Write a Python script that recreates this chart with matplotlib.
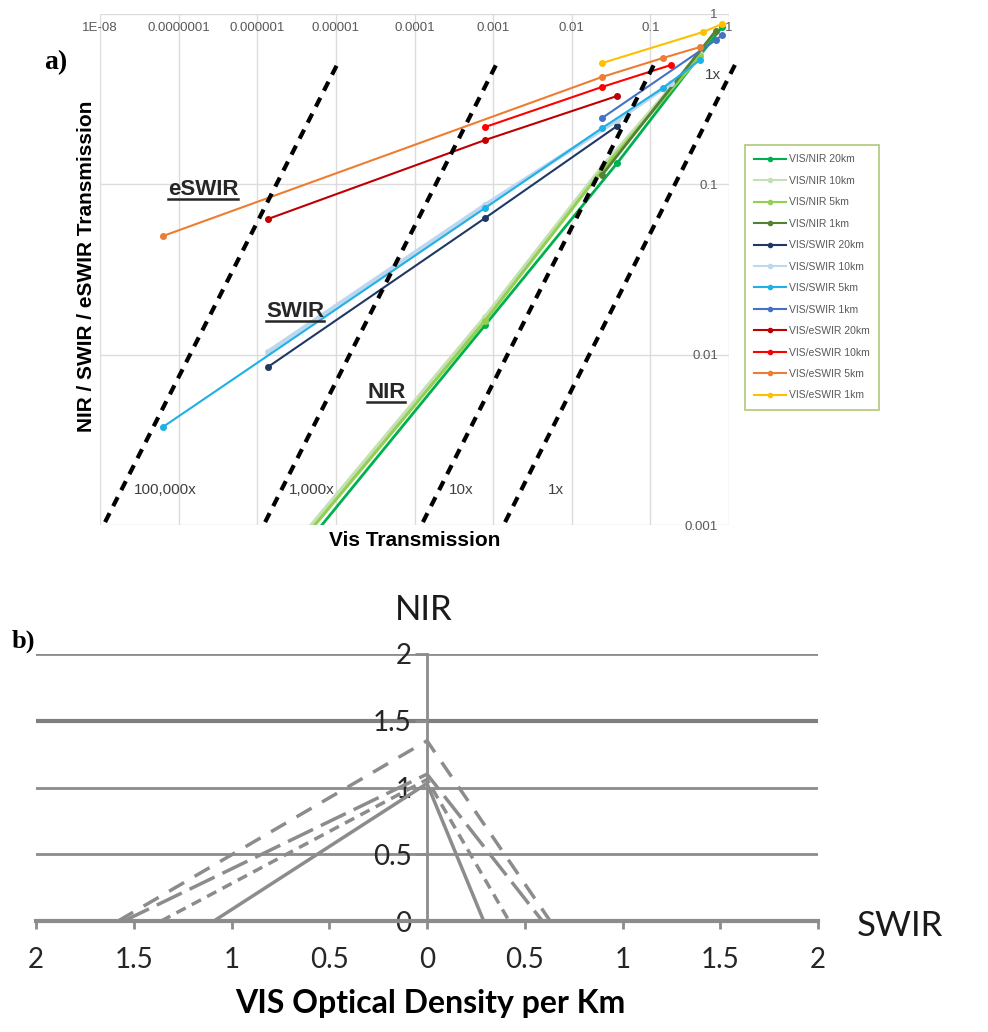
import matplotlib
matplotlib.use('Agg')
import matplotlib.pyplot as plt
from matplotlib.lines import Line2D

plt.rcParams['font.family'] = ['Liberation Sans', 'DejaVu Sans']

# ---- panel a data ----
nir20_x = [1.37e-6, 7.9e-4, 0.0377, 0.815]
nir20_y = [4.1e-4, 0.0149, 0.133, 0.839]
nir10_x = [6.3e-8, 7.9e-4, 0.0243, 0.428]
nir10_y = [9.0e-5, 0.0166, 0.126, 0.58]
nir5_x = [6.3e-8, 7.9e-4, 0.0243, 0.428]
nir5_y = [8.5e-5, 0.0158, 0.121, 0.567]
nir1_x = [0.0243, 0.684]
nir1_y = [0.1135, 0.80]

swir20_x = [1.37e-6, 7.9e-4, 0.0377]
swir20_y = [0.00847, 0.0634, 0.220]
swir10_x = [1.37e-6, 7.9e-4, 0.0377, 0.183]
swir10_y = [0.0104, 0.0756, 0.238, 0.393]
swir5_x = [6.3e-8, 7.9e-4, 0.0243, 0.145, 0.428]
swir5_y = [0.00376, 0.0726, 0.214, 0.368, 0.537]
swir1_x = [0.0243, 0.684, 0.815]
swir1_y = [0.245, 0.704, 0.753]

esw20_x = [1.37e-6, 7.9e-4, 0.0377]
esw20_y = [0.0626, 0.182, 0.330]
esw10_x = [7.9e-4, 0.0243, 0.183]
esw10_y = [0.217, 0.373, 0.502]
esw5_x = [6.3e-8, 0.0243, 0.145, 0.428]
esw5_y = [0.0497, 0.427, 0.552, 0.640]
esw1_x = [0.0243, 0.467, 0.815]
esw1_y = [0.515, 0.784, 0.873]

# dashed ratio lines: bottom / top end points
ratio_labels = ['100,000x', '1,000x', '10x', '1x']
ratio_x0 = [1.16e-8, 1.26e-6, 1.28e-4, 1.42e-3]
ratio_x1 = [1.13e-5, 1.19e-3, 0.121, 1.30]
ratio_y0 = 1.04e-3
ratio_y1 = 0.545

xtick_vals = [1e-8, 1e-7, 1e-6, 1e-5, 1e-4, 1e-3, 1e-2, 1e-1, 1]
xtick_labels = ['1E-08', '0.0000001', '0.000001', '0.00001', '0.0001', '0.001', '0.01', '0.1', '1']
ytick_vals = [0.001, 0.01, 0.1, 1]
ytick_labels = ['0.001', '0.01', '0.1', '1']

# ---- panel b data (optical density per km) ----
vis_od = [1.09, 1.36, 1.55, 1.58]
nir_od = [1.03, 1.06, 1.10, 1.35]
swir_od = [0.29, 0.42, 0.59, 0.63]
b_styles = ['-', (0, (3, 2)), (0, (8, 2.5)), (0, (5, 3.5))]
b_ticks = [-2, -1.5, -1, -0.5, 0, 0.5, 1, 1.5, 2]
b_ticklabels = ['2', '1.5', '1', '0.5', '0', '0.5', '1', '1.5', '2']

W, H = 988, 1032


def box(l, t, r, b):
    return [l / W, 1 - b / H, (r - l) / W, (b - t) / H]


fig = plt.figure(figsize=(W / 100, H / 100), dpi=100)

# ================= panel a =================
ax = fig.add_axes(box(100, 14, 729, 525))
ax.set_xscale('log')
ax.set_yscale('log')
ax.set_xlim(1e-8, 1)
ax.set_ylim(1e-3, 1)
for s in ax.spines.values():
    s.set_visible(False)
ax.grid(True, which='major', color='#dcdcdc', lw=1)
ax.minorticks_off()
ax.set_xticks(xtick_vals)
ax.set_xticklabels(xtick_labels)
ax.set_yticks(ytick_vals)
ax.set_yticklabels(ytick_labels)
ax.xaxis.tick_top()
ax.tick_params(axis='x', length=0, pad=-10, labelsize=9.5, labelcolor='#595959')
ax.tick_params(axis='y', length=0, pad=-8, labelsize=9.5, labelcolor='#595959',
               labelleft=False, labelright=True)
for t in ax.get_xticklabels():
    t.set_va('center')
for t in ax.get_yticklabels():
    t.set_ha('right')

series = [
    ('VIS/NIR 20km', nir20_x, nir20_y, '#00B050', 2.0),
    ('VIS/NIR 10km', nir10_x, nir10_y, '#C5E0B4', 3.0),
    ('VIS/NIR 5km', nir5_x, nir5_y, '#92D050', 2.2),
    ('VIS/NIR 1km', nir1_x, nir1_y, '#548235', 2.0),
    ('VIS/SWIR 20km', swir20_x, swir20_y, '#203864', 1.5),
    ('VIS/SWIR 10km', swir10_x, swir10_y, '#BDD7EE', 3.0),
    ('VIS/SWIR 5km', swir5_x, swir5_y, '#1FB0E6', 1.5),
    ('VIS/SWIR 1km', swir1_x, swir1_y, '#4472C4', 1.5),
    ('VIS/eSWIR 20km', esw20_x, esw20_y, '#C00000', 1.5),
    ('VIS/eSWIR 10km', esw10_x, esw10_y, '#FF0000', 1.5),
    ('VIS/eSWIR 5km', esw5_x, esw5_y, '#ED7D31', 1.5),
    ('VIS/eSWIR 1km', esw1_x, esw1_y, '#FFC000', 1.5),
]
handles = []
for name, xs, ys, c, lw in series:
    ax.plot(xs, ys, color=c, lw=lw, marker='o', ms=4, zorder=3)
    handles.append(Line2D([0], [0], color=c, lw=1.5, marker='o', ms=3, label=name))

for x0, x1 in zip(ratio_x0, ratio_x1):
    ax.plot([x0, x1], [ratio_y0, ratio_y1], color='black', lw=3,
            ls=(0, (2.4, 1.9)), clip_on=False, zorder=4)

ratio_pos = [(0.103, 0.069), (0.337, 0.069), (0.575, 0.069), (0.725, 0.069)]
for lab, (px, py) in zip(ratio_labels, ratio_pos):
    ax.text(px, py, lab, transform=ax.transAxes, ha='center', va='center',
            fontsize=11, color='#404040')
ax.text(0.975, 0.881, '1x', transform=ax.transAxes, ha='center', va='center',
        fontsize=11, color='#404040')

band_texts = []
for lab, px, py in [('eSWIR', 0.164, 0.656), ('SWIR', 0.310, 0.417), ('NIR', 0.455, 0.260)]:
    band_texts.append(ax.text(px, py, lab, transform=ax.transAxes, ha='center',
                              va='center', fontsize=16, fontweight='bold', color='#262626'))

fig.text(86 / W, 1 - 266 / H, 'NIR / SWIR / eSWIR Transmission', rotation=90,
         ha='center', va='center', fontsize=15, fontweight='bold')
fig.text(415 / W, 1 - 540 / H, 'Vis Transmission', ha='center', va='center',
         fontsize=15, fontweight='bold')
fig.text(56 / W, 1 - 63 / H, 'a)', ha='center', va='center', fontsize=20,
         fontweight='bold', family='Liberation Serif')

leg = fig.legend(handles=handles, loc='upper left',
                 bbox_to_anchor=(745 / W, 1 - 145 / H), fontsize=7.5,
                 labelcolor='#595959', frameon=True, fancybox=False,
                 edgecolor='#9BBB59', labelspacing=1.1, handlelength=3.0,
                 handletextpad=0.3, borderpad=0.9, borderaxespad=0)
leg.get_frame().set_linewidth(1.2)

# ================= panel b =================
bx = fig.add_axes(box(36, 654, 818, 921))
bx.set_xlim(-2, 2)
bx.set_ylim(0, 2)
gray = '#8c8c8c'
for s in ['top', 'right']:
    bx.spines[s].set_visible(False)
bx.spines['left'].set_position(('data', 0))
bx.spines['left'].set_color(gray)
bx.spines['left'].set_linewidth(2)
bx.spines['bottom'].set_color(gray)
bx.spines['bottom'].set_linewidth(3)
bx.set_yticks([0, 0.5, 1, 1.5, 2])
bx.set_yticklabels(['0', '0.5', '1', '1.5', '2'])
bx.set_xticks(b_ticks)
bx.set_xticklabels(b_ticklabels)
bx.yaxis.grid(True, color=gray, lw=2)
bx.get_ygridlines()[3].set_linewidth(3)
bx.get_ygridlines()[3].set_color('#7f7f7f')
bx.set_axisbelow(True)
bx.tick_params(axis='x', direction='out', length=6, width=2, color=gray, pad=13,
               labelsize=20, labelcolor='#262626')
bx.tick_params(axis='y', direction='out', length=9, width=2, color=gray, pad=2,
               labelsize=20, labelcolor='#262626')
for t in bx.get_xticklabels() + bx.get_yticklabels():
    t.set_family('Lato')

for v, n, s, st in zip(vis_od, nir_od, swir_od, b_styles):
    bx.plot([-v, 0, s], [0, n, 0], color=gray, lw=2.5, ls=st, zorder=3)

fig.text(424 / W, 1 - 610 / H, 'NIR', ha='center', va='center', fontsize=25,
         family='Lato', color='#1a1a1a')
fig.text(900 / W, 1 - 926 / H, 'SWIR', ha='center', va='center', fontsize=25,
         family='Lato', color='#1a1a1a')
fig.text(430 / W, 1 - 1003 / H, 'VIS Optical Density per Km', ha='center',
         va='center', fontsize=23, fontweight='bold', family='Lato')
fig.text(23 / W, 1 - 641 / H, 'b)', ha='center', va='center', fontsize=19,
         fontweight='bold', family='Liberation Serif')

# underline the band names
fig.canvas.draw()
inv = fig.transFigure.inverted()
for t in band_texts:
    bb = t.get_window_extent()
    (x0, y0), (x1, _) = inv.transform([[bb.x0, bb.y0 + 1], [bb.x1, bb.y0 + 1]])
    fig.add_artist(Line2D([x0, x1], [y0, y0], color='#262626', lw=1.8))

fig.savefig('out.png', dpi=100)
